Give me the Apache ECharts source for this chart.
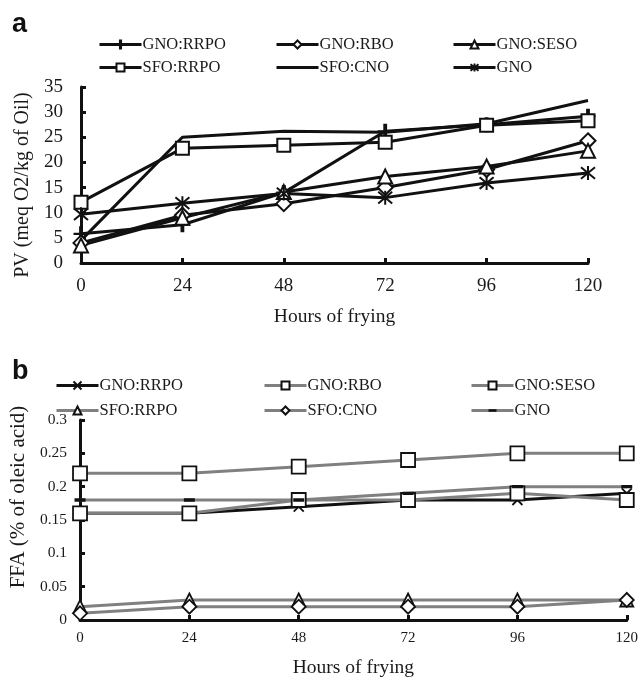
<!DOCTYPE html>
<html>
<head>
<meta charset="utf-8">
<script src="https://cdn.jsdelivr.net/npm/echarts@6/dist/echarts.min.js"></script>
<style>
html, body { margin: 0; padding: 0; background: #fff; }
#chart { width: 641px; height: 680px; }
</style>
</head>
<body>
<div id="chart"></div>
<script>
// hours of frying (x axis of both panels)
var hours = [0, 24, 48, 72, 96, 120];

// panel a : PV (meq O2/kg of Oil)
var pvGnoRrpo = [5.8, 7.6, 14, 26.2, 27.5, 29.2];
var pvGnoRbo = [4, 9.5, 11.8, 15, 18.6, 24.3];
var pvGnoSeso = [3.5, 9, 14.1, 17.2, 19.2, 22.3];
var pvSfoRrpo = [12.1, 22.8, 23.4, 24, 27.4, 28.3];
var pvSfoCno = [4.5, 25, 26.2, 26, 27.7, 32.3];
var pvGno = [9.7, 11.9, 13.8, 13, 15.9, 17.9];

// panel b : FFA (% of oleic acid)
var ffaGnoRrpo = [0.16, 0.16, 0.17, 0.18, 0.18, 0.19];
var ffaGnoRbo = [0.22, 0.22, 0.23, 0.24, 0.25, 0.25];
var ffaGnoSeso = [0.16, 0.16, 0.18, 0.18, 0.19, 0.18];
var ffaSfoRrpo = [0.02, 0.03, 0.03, 0.03, 0.03, 0.03];
var ffaSfoCno = [0.01, 0.02, 0.02, 0.02, 0.02, 0.03];
var ffaGno = [0.18, 0.18, 0.18, 0.19, 0.20, 0.20];

var SERIF = 'Liberation Serif';
var TXT = '#1a1a1a';
var GRAY = '#808080';

// symbols
var SYM_TICK = 'path://M4.3,0 H5.7 V10 H4.3 Z M0,4.95 H10 V5.05 H0 Z';
var SYM_STAR = 'path://M0,0 L10,10 M10,0 L0,10 M5,-1 L5,11';
var SYM_X = 'path://M0,0 L10,10 M10,0 L0,10';
// short black dash, tiny specks keep the box square
var SYM_DASH = 'path://M0,3.5 H10 V6.5 H0 Z M5,0 L5.01,0 L5,0.01 Z M5,10 L5.01,10 L5,9.99 Z';
// plain thick line for the legend of SFO:CNO (a)
var ICON_LINE = 'path://M0,3.5 H42 V6.5 H0 Z M0,0 L0.01,0 L0,0.01 Z M42,10 L41.99,10 L42,9.99 Z';

function pts(vals) {
	var out = [];
	for (var i = 0; i < hours.length; i++) {
		out.push([hours[i], vals[i]]);
	}
	return out;
}

// series of panel a, all black
function serA(name, vals, symbol, size, fill) {
	return {
		name: name,
		type: 'line',
		xAxisIndex: 0,
		yAxisIndex: 0,
		data: pts(vals),
		symbol: symbol,
		symbolSize: size,
		showSymbol: symbol != 'none',
		lineStyle: { color: '#111', width: 3 },
		itemStyle: { color: fill, borderColor: '#111', borderWidth: 2 },
		emphasis: { disabled: true },
		animation: false
	};
}

// series of panel b, gray lines with black markers
function serB(name, vals, lineColor, symbol, size, fill, bw) {
	return {
		name: 'b:' + name,
		type: 'line',
		xAxisIndex: 1,
		yAxisIndex: 1,
		data: pts(vals),
		symbol: symbol,
		symbolSize: size,
		lineStyle: { color: lineColor, width: 3 },
		itemStyle: { color: fill, borderColor: '#111', borderWidth: bw },
		emphasis: { disabled: true },
		animation: false
	};
}

function legendCol(left, top, names, gap, isB) {
	return {
		orient: 'vertical',
		left: left,
		top: top,
		itemWidth: 42,
		itemHeight: 10,
		itemGap: gap,
		selectedMode: false,
		lineStyle: { width: 3 },
		data: names,
		formatter: isB ? function(n) { return n.replace(/^b:/, ''); } : '{name}',
		textStyle: { fontFamily: SERIF, fontSize: 16.5, color: TXT, padding: [0, 0, 0, -4] }
	};
}

function xAxisCfg(grid, fontSize, margin, nameGap) {
	return {
		type: 'value',
		gridIndex: grid,
		min: 0,
		max: 120,
		interval: 24,
		name: 'Hours of frying',
		nameLocation: 'middle',
		nameGap: nameGap,
		nameTextStyle: { fontFamily: SERIF, fontSize: 19.5, color: TXT },
		axisLine: { lineStyle: { color: '#111', width: 3 } },
		axisTick: { inside: true, length: 5, lineStyle: { color: '#111', width: 3 } },
		axisLabel: { fontFamily: SERIF, fontSize: fontSize, color: TXT, margin: margin },
		splitLine: { show: false }
	};
}

var chart = echarts.init(document.getElementById('chart'));

var option = {
	backgroundColor: '#fff',
	title: [
		{ text: 'a', left: 7, top: 6, textStyle: { fontFamily: 'Liberation Sans', fontWeight: 'bold', fontSize: 27, color: '#111' } },
		{ text: 'b', left: 7, top: 353, textStyle: { fontFamily: 'Liberation Sans', fontWeight: 'bold', fontSize: 27, color: '#111' } }
	],
	legend: [
		legendCol(93, 31, ['GNO:RRPO', 'SFO:RRPO'], 6, false),
		legendCol(270, 31, ['GNO:RBO', { name: 'SFO:CNO', icon: ICON_LINE, itemStyle: { color: '#111', borderWidth: 0 } }], 6, false),
		legendCol(447, 31, ['GNO:SESO', 'GNO'], 6, false),
		legendCol(50, 372, ['b:GNO:RRPO', 'b:SFO:RRPO'], 8, true),
		legendCol(258, 372, ['b:GNO:RBO', 'b:SFO:CNO'], 8, true),
		legendCol(465, 372, ['b:GNO:SESO', 'b:GNO'], 8, true)
	],
	grid: [
		{ left: 81, right: 53, top: 87, bottom: 417 },
		{ left: 80, right: 11, top: 420, bottom: 60 }
	],
	xAxis: [
		xAxisCfg(0, 19, 14, 44),
		xAxisCfg(1, 15, 11, 38)
	],
	yAxis: [
		{
			type: 'value',
			gridIndex: 0,
			min: 0,
			max: 35,
			interval: 5,
			name: 'PV (meq O2/kg of Oil)',
			nameLocation: 'middle',
			nameGap: 44,
			nameTextStyle: { fontFamily: SERIF, fontSize: 20, color: TXT, padding: [0, 20, 0, 0] },
			axisLine: { lineStyle: { color: '#111', width: 3 } },
			axisTick: { inside: true, length: 5, lineStyle: { color: '#111', width: 3 } },
			axisLabel: { fontFamily: SERIF, fontSize: 19, color: TXT, margin: 18 },
			splitLine: { show: false }
		},
		{
			type: 'value',
			gridIndex: 1,
			min: 0,
			max: 0.3,
			interval: 0.05,
			name: 'FFA (% of oleic acid)',
			nameLocation: 'middle',
			nameGap: 51,
			nameTextStyle: { fontFamily: SERIF, fontSize: 21, color: TXT, padding: [0, 0, 0, 46] },
			axisLine: { lineStyle: { color: '#111', width: 3 } },
			axisTick: { inside: true, length: 5, lineStyle: { color: '#111', width: 3 } },
			axisLabel: { fontFamily: SERIF, fontSize: 15.5, color: TXT, margin: 13 },
			splitLine: { show: false }
		}
	],
	series: [
		serA('GNO:RRPO', pvGnoRrpo, SYM_TICK, 13, '#111'),
		serA('GNO:RBO', pvGnoRbo, 'diamond', 15, '#fff'),
		serA('GNO:SESO', pvGnoSeso, 'triangle', 14, '#fff'),
		serA('SFO:RRPO', pvSfoRrpo, 'rect', 13, '#fff'),
		serA('SFO:CNO', pvSfoCno, 'none', 10, '#111'),
		serA('GNO', pvGno, SYM_STAR, 14, '#111'),

		serB('GNO:RRPO', ffaGnoRrpo, '#111', SYM_X, 10, '#111', 1.8),
		serB('GNO:RBO', ffaGnoRbo, GRAY, 'rect', 14, '#fff', 1.8),
		serB('GNO:SESO', ffaGnoSeso, GRAY, 'rect', 14, '#fff', 1.8),
		serB('SFO:RRPO', ffaSfoRrpo, GRAY, 'triangle', 13, '#fff', 1.8),
		serB('SFO:CNO', ffaSfoCno, GRAY, 'diamond', 14, '#fff', 1.8),
		serB('GNO', ffaGno, GRAY, SYM_DASH, 11, '#111', 0)
	]
};

chart.setOption(option);
</script>
</body>
</html>
